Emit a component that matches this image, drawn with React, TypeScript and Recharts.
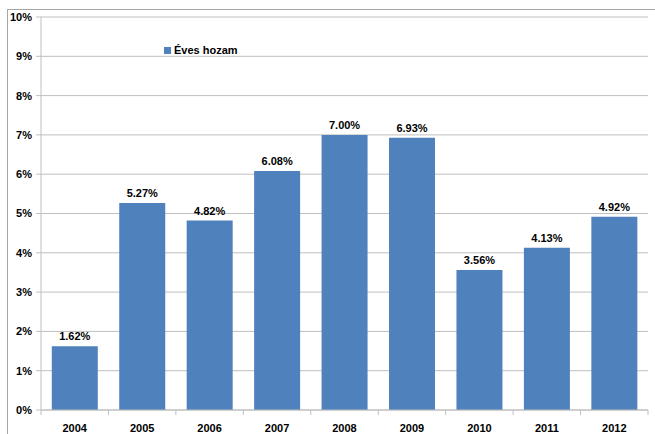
import React from "react";
import { BarChart, Bar, XAxis, YAxis, CartesianGrid, LabelList } from "recharts";

const years = ["2004", "2005", "2006", "2007", "2008", "2009", "2010", "2011", "2012"];
const yields = [1.62, 5.27, 4.82, 6.08, 7.0, 6.93, 3.56, 4.13, 4.92];
const yTicks = [0, 1, 2, 3, 4, 5, 6, 7, 8, 9, 10];

const data = years.map((year, i) => ({ year, value: yields[i] }));

const W = 655;
const H = 434;
const LEFT = 41;
const RIGHT = 7;
const STEP = (W - LEFT - RIGHT) / years.length;
const FONT = "'Liberation Sans', Arial, sans-serif";
const GRID = "#bfbfbf";
const BLUE = "#4f81bd";

function XTick(props: any) {
  const { x, y, payload, index } = props;
  const left = x - STEP / 2;
  return (
    <g>
      <line x1={left} x2={left} y1={y - 8} y2={y - 3} stroke={GRID} />
      {index === years.length - 1 && (
        <line x1={x + STEP / 2} x2={x + STEP / 2} y1={y - 8} y2={y - 3} stroke={GRID} />
      )}
      <text x={x} y={y + 14} textAnchor="middle" fontSize={11} fontWeight="bold" fill="#000" fontFamily={FONT}>
        {payload.value}
      </text>
    </g>
  );
}

export default function App() {
  return (
    <div style={{ position: "absolute", left: 0, top: 0, width: W, height: H, background: "#fff", overflow: "hidden" }}>
      <div
        style={{
          position: "absolute",
          left: 7,
          top: 9,
          width: W,
          height: H,
          border: "1px solid #a6a6a6",
          boxSizing: "border-box",
        }}
      />
      <BarChart
        width={W}
        height={H}
        data={data}
        margin={{ top: 17, right: RIGHT, bottom: 0, left: 0 }}
        barCategoryGap="16%"
        style={{ position: "absolute", left: 0, top: 0 }}
      >
        <CartesianGrid vertical={false} stroke={GRID} />
        <XAxis
          dataKey="year"
          height={24}
          axisLine={{ stroke: GRID }}
          tickLine={false}
          tick={<XTick />}
          interval={0}
        />
        <YAxis
          width={LEFT}
          domain={[0, 10]}
          ticks={yTicks}
          interval={0}
          tickFormatter={(v: number) => `${v}%`}
          axisLine={{ stroke: GRID }}
          tickLine={{ stroke: GRID }}
          tickSize={5}
          tickMargin={4}
          tick={{ fontSize: 11, fontWeight: "bold", fill: "#000", fontFamily: FONT }}
        />
        <Bar dataKey="value" fill={BLUE} isAnimationActive={false}>
          <LabelList
            dataKey="value"
            position="top"
            offset={6}
            formatter={(v: number) => `${v.toFixed(2)}%`}
            style={{ fontSize: 11, fontWeight: "bold", fill: "#000", fontFamily: FONT }}
          />
        </Bar>
      </BarChart>
      <div
        style={{
          position: "absolute",
          left: 164,
          top: 44,
          display: "flex",
          alignItems: "center",
          fontFamily: FONT,
          fontSize: 11,
          fontWeight: "bold",
        }}
      >
        <span style={{ width: 7, height: 7, background: BLUE, marginRight: 3, display: "inline-block" }} />
        Éves hozam
      </div>
    </div>
  );
}
